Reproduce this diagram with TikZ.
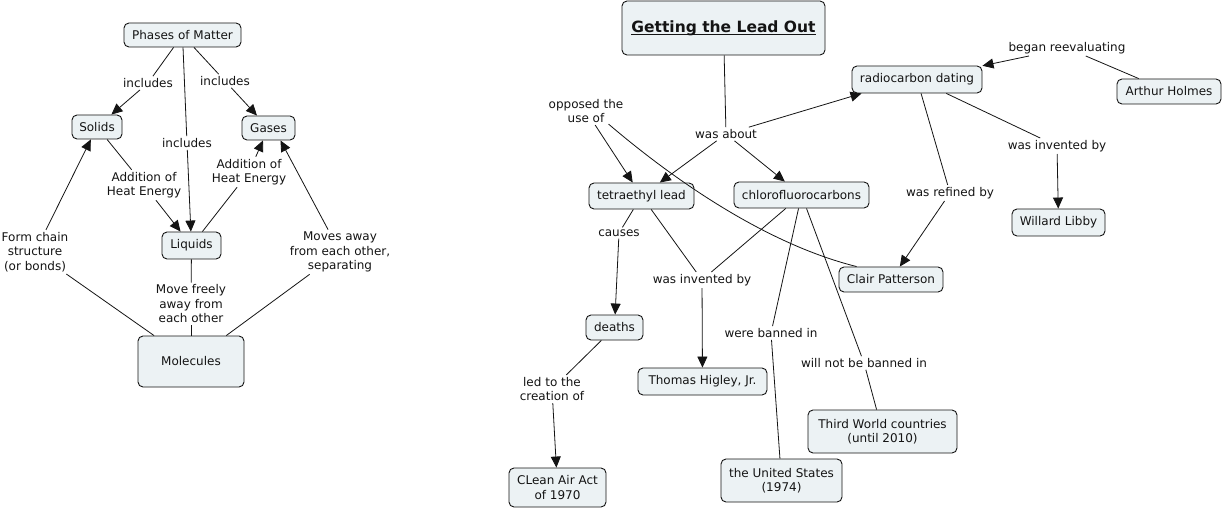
\documentclass[tikz,border=0pt]{standalone}
\usepackage{fontspec}
\setmainfont{DejaVu Sans}
\usetikzlibrary{arrows.meta}
\definecolor{boxfill}{RGB}{236,242,244}
\definecolor{ink}{RGB}{20,20,20}
\newcommand\myuline[1]{\setbox0\hbox{#1}\rlap{\rule[-2.6pt]{\wd0}{1.3pt}}\box0}
\tikzset{
  cbox/.style={draw=ink, fill=boxfill, rounded corners=5pt, line width=0.9pt,
    inner sep=0pt, align=center, text=ink},
  lab/.style={inner sep=2pt, align=center, text=ink},
  link/.style={draw=ink, line width=0.8pt},
  arr/.style={link, -{Triangle[length=11pt,width=10pt]}},
}
\begin{document}
\begin{tikzpicture}[x=1pt,y=-1pt, every node/.style={font=\fontsize{12}{14.5}\selectfont}]
\useasboundingbox (0,0) rectangle (1222,510);
\fill[white] (0,0) rectangle (1222,510);

% ---------- left map ----------
\node[cbox, minimum width=117pt, minimum height=24pt] (phases) at (182.5,35) {Phases of Matter};
\node[cbox, minimum width=50pt, minimum height=24pt] (solids) at (97,127) {Solids};
\node[cbox, minimum width=53pt, minimum height=24pt] (gases) at (268.5,128) {Gases};
\node[cbox, minimum width=59pt, minimum height=27pt] (liquids) at (191.5,245.5) {Liquids};
\node[cbox, minimum width=106pt, minimum height=51pt] (molecules) at (191,361.5) {Molecules};

\node[lab] (incl1) at (148,83) {includes};
\node[lab] (incl2) at (187,143) {includes};
\node[lab] (incl3) at (225,81) {includes};
\node[lab] (heat1) at (144,185) {Addition of\\Heat Energy};
\node[lab] (heat2) at (249,172) {Addition of\\Heat Energy};
\node[lab] (chain) at (35,252) {Form chain\\structure\\(or bonds)};
\node[lab] (freely) at (191,304) {Move freely\\away from\\each other};
\node[lab] (away) at (340,252) {Moves away\\from each other,\\separating};

\draw[link] (phases) -- (incl1);
\draw[arr] (incl1) -- (solids);
\draw[link] (phases) -- (incl2);
\draw[arr] (incl2) -- (liquids);
\draw[link] (phases) -- (incl3);
\draw[arr] (incl3) -- (gases);
\draw[link] (solids) -- (heat1);
\draw[arr] (heat1) -- (liquids);
\draw[link] (liquids) -- (heat2);
\draw[arr] (heat2) -- (gases);
\draw[link] (molecules) -- (chain);
\draw[arr] (chain) -- (solids);
\draw[link] (liquids) -- (freely);
\draw[link] (freely) -- (molecules);
\draw[link] (molecules) -- (away);
\draw[arr] (away) -- ([xshift=12pt]gases.south);

% ---------- right map ----------
\node[cbox, minimum width=203pt, minimum height=54pt, font=\fontsize{15.5}{18}\selectfont\bfseries] (title) at (723.5,28) {\myuline{Getting the Lead Out}};
\node[cbox, minimum width=130pt, minimum height=27pt] (radio) at (917,79.5) {radiocarbon dating};
\node[cbox, minimum width=104pt, minimum height=25pt] (holmes) at (1169,91.5) {Arthur Holmes};
\node[cbox, minimum width=93pt, minimum height=27pt] (libby) at (1058.5,222.5) {Willard Libby};
\node[cbox, minimum width=104pt, minimum height=25pt] (clair) at (891,279.5) {Clair Patterson};
\node[cbox, minimum width=105pt, minimum height=26pt] (tel) at (641.5,196) {tetraethyl lead};
\node[cbox, minimum width=135pt, minimum height=26pt] (cfc) at (801.5,195) {chlorofluorocarbons};
\node[cbox, minimum width=57pt, minimum height=25pt] (deaths) at (614.5,327.5) {deaths};
\node[cbox, minimum width=129pt, minimum height=27pt] (higley) at (702.5,381.5) {Thomas Higley, Jr.};
\node[cbox, minimum width=149pt, minimum height=43pt] (third) at (882.5,431.5) {Third World countries\\(until 2010)};
\node[cbox, minimum width=121pt, minimum height=43pt] (us) at (781.5,480.5) {the United States\\(1974)};
\node[cbox, minimum width=97pt, minimum height=39pt] (clean) at (557.5,487.5) {CLean Air Act\\of 1970};

\node[lab] (about) at (726,134) {was about};
\node[lab] (began) at (1067,48) {began reevaluating};
\node[lab] (invR) at (1057,146) {was invented by};
\node[lab] (refined) at (950,193) {was refined by};
\node[lab] (opposed) at (586,111) {opposed the\\use of};
\node[lab] (causes) at (619,233) {causes};
\node[lab] (invM) at (702,280) {was invented by};
\node[lab] (banned) at (771,333) {were banned in};
\node[lab] (notbanned) at (864,363) {will not be banned in};
\node[lab] (ledto) at (552,389) {led to the\\creation of};

\draw[link] (title) -- (about);
\draw[arr] (about) -- (tel);
\draw[arr] (about) -- (cfc);
\draw[arr] (about) -- ([xshift=10pt]radio.south west);
\draw[link] (holmes) -- (began);
\draw[arr] (began) -- (radio);
\draw[link] (radio) -- (invR);
\draw[arr] (invR) -- (libby);
\draw[link] (radio) -- (refined);
\draw[arr] (refined) -- (clair);
\draw[link] ([xshift=18pt]clair.north west) .. controls (770,245) and (680,185) .. ([xshift=-17pt,yshift=1pt]opposed.south east);
\draw[arr] (opposed) -- (tel);
\draw[link] (tel) -- (causes);
\draw[arr] (causes) -- (deaths);
\draw[link] (tel) -- (invM);
\draw[link] (cfc) -- (invM);
\draw[arr] (invM) -- (higley);
\draw[link] (cfc) -- (banned);
\draw[link] (banned) -- (us);
\draw[link] (cfc) -- (notbanned);
\draw[link] (notbanned) -- (third);
\draw[link] (deaths) -- (ledto);
\draw[arr] (ledto) -- (clean);
\end{tikzpicture}
\end{document}
